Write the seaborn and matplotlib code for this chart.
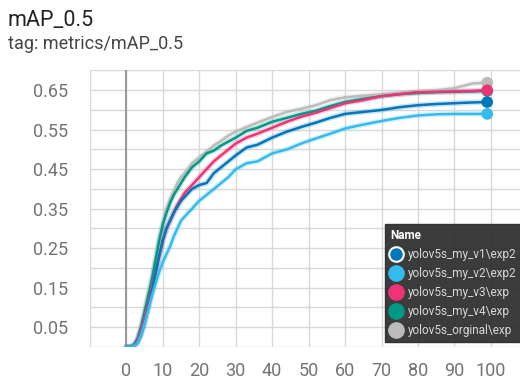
import numpy as np
import pandas as pd
import matplotlib
matplotlib.use('Agg')
import matplotlib.pyplot as plt
import seaborn as sns
from matplotlib.lines import Line2D

# data (smoothed curves)
epochs = [0, 1, 2, 3, 4, 5, 6, 7, 8, 9, 10, 11, 12, 13, 14, 15, 16, 18, 20, 22,
          24, 26, 28, 30, 33, 36, 40, 44, 48, 52, 56, 60, 65, 70, 75, 80, 85, 90, 95, 99]

v1 = [0, 0, 0.002, 0.01, 0.03, 0.06, 0.10, 0.14, 0.185, 0.23, 0.27, 0.30, 0.32, 0.34, 0.355,
      0.37, 0.38, 0.40, 0.41, 0.415, 0.44, 0.455, 0.47, 0.485, 0.505, 0.512, 0.53, 0.545,
      0.557, 0.568, 0.58, 0.59, 0.595, 0.60, 0.607, 0.612, 0.615, 0.617, 0.619, 0.62]
v2 = [0, 0, 0.002, 0.01, 0.03, 0.06, 0.095, 0.13, 0.16, 0.19, 0.215, 0.235, 0.255, 0.28, 0.30,
      0.32, 0.33, 0.35, 0.37, 0.385, 0.40, 0.415, 0.43, 0.45, 0.465, 0.47, 0.49, 0.50,
      0.515, 0.528, 0.54, 0.553, 0.563, 0.572, 0.58, 0.586, 0.589, 0.59, 0.59, 0.59]
v3 = [0, 0, 0.003, 0.015, 0.04, 0.075, 0.11, 0.15, 0.19, 0.23, 0.27, 0.30, 0.32, 0.34, 0.36,
      0.375, 0.39, 0.41, 0.43, 0.45, 0.47, 0.485, 0.50, 0.515, 0.53, 0.54, 0.555, 0.57,
      0.583, 0.593, 0.605, 0.617, 0.625, 0.635, 0.64, 0.645, 0.646, 0.647, 0.648, 0.65]
v4 = [0, 0, 0.005, 0.02, 0.05, 0.09, 0.13, 0.17, 0.22, 0.27, 0.31, 0.34, 0.365, 0.385, 0.40,
      0.415, 0.43, 0.455, 0.47, 0.49, 0.497, 0.51, 0.52, 0.53, 0.547, 0.555, 0.57, 0.58,
      0.59, 0.598, 0.61, 0.62, 0.628, 0.635, 0.64, 0.643, 0.645, 0.646, 0.647, 0.648]
orig = [0, 0, 0.005, 0.02, 0.05, 0.09, 0.135, 0.18, 0.225, 0.275, 0.315, 0.35, 0.375, 0.395, 0.415,
        0.43, 0.44, 0.465, 0.48, 0.495, 0.51, 0.522, 0.535, 0.545, 0.557, 0.568, 0.582, 0.595,
        0.603, 0.612, 0.625, 0.632, 0.636, 0.64, 0.643, 0.647, 0.65, 0.655, 0.667, 0.669]

runs = ['yolov5s_my_v1\\exp2', 'yolov5s_my_v2\\exp2', 'yolov5s_my_v3\\exp',
        'yolov5s_my_v4\\exp', 'yolov5s_orginal\\exp']
colors = ['#0077bb', '#33bbee', '#ee3377', '#009988', '#bbbbbb']
pal = dict(zip(runs, colors))

df = pd.concat([pd.DataFrame({'epoch': epochs, 'mAP': vals, 'run': r})
                for r, vals in zip(runs, [v1, v2, v3, v4, orig])], ignore_index=True)

sns.set_style('white')
plt.rcParams['font.family'] = ['Roboto', 'DejaVu Sans']

fig = plt.figure(figsize=(5.2, 3.8), dpi=100)
ax = fig.add_axes([0.173, 0.087, 0.827, 0.7276])

draw_order = [runs[4], runs[3], runs[2], runs[0], runs[1]]

# faint halo like the raw (unsmoothed) trace
sns.lineplot(data=df, x='epoch', y='mAP', hue='run', hue_order=draw_order, palette=pal,
             lw=4, alpha=0.2, legend=False, ax=ax)
sns.lineplot(data=df, x='epoch', y='mAP', hue='run', hue_order=draw_order, palette=pal,
             lw=1.8, legend=False, ax=ax)
last = df[df['epoch'] == epochs[-1]].set_index('run').loc[draw_order].reset_index()
sns.scatterplot(data=last, x='epoch', y='mAP', hue='run', hue_order=draw_order, palette=pal,
                s=70, edgecolor='none', legend=False, ax=ax, zorder=5)

ax.axvline(0, color='#9a9a9a', lw=1.5, zorder=1)

ax.set_xlim(-10, 108)
ax.set_ylim(0, 0.7)
ax.set_xticks(np.arange(-10, 101, 10))
ax.set_xticklabels([''] + [str(v) for v in range(0, 101, 10)])
ax.set_yticks([0.05, 0.15, 0.25, 0.35, 0.45, 0.55, 0.65])
ax.set_yticks(np.arange(0, 0.71, 0.1), minor=True)
ax.set_yticklabels(['0.05', '0.15', '0.25', '0.35', '0.45', '0.55', '0.65'])
ax.grid(True, which='both', color='#d8d8d8', lw=1)
ax.set_axisbelow(True)
ax.tick_params(axis='both', which='both', color='#d8d8d8', width=1, labelcolor='#737373',
               labelsize=13)
ax.tick_params(axis='x', length=6, pad=5)
ax.tick_params(axis='y', which='both', length=8, pad=8)
ax.set_xlabel('')
ax.set_ylabel('')
for s in ax.spines.values():
    s.set_visible(False)

fig.text(0.015, 0.947, 'mAP_0.5', fontsize=15.5, color='#222222', va='center')
fig.text(0.015, 0.884, 'tag: metrics/mAP_0.5', fontsize=13, color='#444444', va='center')

handles = []
for r, c in zip(runs, colors):
    ec = 'white' if r == runs[0] else c
    handles.append(Line2D([], [], ls='none', marker='o', ms=10.5, mfc=c, mec=ec, mew=1.5))
leg = ax.legend(handles, runs, title='Name', loc='lower left',
                bbox_to_anchor=(385 / 520, 1 - 342 / 380), bbox_transform=fig.transFigure,
                frameon=True, facecolor='#2b2b2b', framealpha=0.92, edgecolor='#2b2b2b',
                fancybox=False, fontsize=8.5, labelcolor='#d8d8d8', handlelength=1.0,
                handletextpad=0.5, labelspacing=0.5, borderpad=0.45, borderaxespad=0,
                alignment='left')
leg.get_title().set_color('white')
leg.get_title().set_fontweight('bold')
leg.get_title().set_fontsize(8.5)
leg.set_zorder(10)

fig.savefig('out.png', dpi=100)
